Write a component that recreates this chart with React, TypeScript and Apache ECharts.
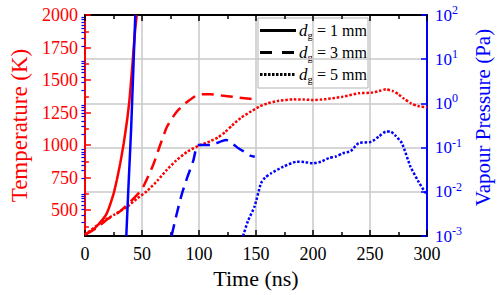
import React, { useEffect, useRef } from "react";
import * as echarts from "echarts";

const FONT = "Liberation Serif";
const RED = "#ff0000";
const BLUE = "#0000ff";
const GRID = "#c8c8c8";

// Axis ticks
const tempTicks = [500, 750, 1000, 1250, 1500, 1750, 2000];
const tempMinorTicks = [375, 625, 875, 1125, 1375, 1625, 1875];
const logDecades = [-3, -2, -1, 0, 1];
const logMinorMultipliers = [2, 3, 4, 5, 6, 7, 8, 9];

// d_g = 1 mm
const time1T = [0, 6, 12, 19, 25, 28, 31, 34, 37, 39, 41.5, 44, 45.5];
const temp1 = [310, 340, 390, 470, 620, 730, 860, 1010, 1190, 1340, 1600, 1880, 2000];
const time1P = [36.3, 38, 40.5, 41.5, 42.8, 44.2];
const press1 = [0.001, 0.01, 0.25, 1.26, 10, 100];

// d_g = 3 mm
const time3T = [0, 10, 20, 30, 40, 50, 60, 66, 72, 80, 88, 95, 100, 110, 120, 130, 140, 150];
const temp3 = [310, 360, 430, 485, 565, 660, 850, 1000, 1140, 1250, 1320, 1365, 1390, 1390, 1380, 1370, 1360, 1350];
const time3P = [76, 80, 85, 90, 95, 99, 105, 110, 115, 120, 124, 130, 135, 140, 145, 149];
const press3 = [0.001, 0.0028, 0.0089, 0.022, 0.05, 0.115, 0.115, 0.115, 0.125, 0.14, 0.148, 0.12, 0.095, 0.08, 0.066, 0.062];

// d_g = 5 mm
const time5T = [0, 15, 25, 37, 46, 55, 64, 72, 80, 90, 100, 110, 117, 123, 129, 137, 146, 153, 160, 170, 183, 192, 200, 210, 217, 226, 240, 251, 258, 264, 270, 275, 280, 286, 292, 300];
const temp5 = [310, 410, 460, 525, 590, 650, 730, 810, 880, 950, 995, 1030, 1060, 1100, 1150, 1210, 1260, 1295, 1320, 1340, 1351, 1350, 1346, 1352, 1359, 1371, 1398, 1402, 1415, 1428, 1415, 1390, 1355, 1320, 1300, 1290];
const time5P = [138.7, 143, 148.7, 154.4, 158, 163, 174, 186, 193, 200, 207, 214, 220, 226, 233, 240, 251, 258, 264, 268, 272, 278, 285.5, 292, 298, 300];
const press5 = [0.001, 0.0022, 0.0046, 0.0155, 0.021, 0.026, 0.037, 0.048, 0.047, 0.044, 0.048, 0.058, 0.063, 0.074, 0.083, 0.126, 0.135, 0.18, 0.23, 0.23, 0.19, 0.126, 0.037, 0.018, 0.01, 0.0089];

const legendLabels = ["1 mm", "3 mm", "5 mm"];

const DASHED = [12, 7];
const DOTTED = [2.5, 1.8];
const legendDashes: any[] = [null, [12, 10], [2.5, 1.5]];

const zip = (xs: number[], ys: number[]) => xs.map((x, i) => [x, ys[i]]);

const logMinor: number[] = [];
logDecades.forEach((d) => logMinorMultipliers.forEach((m) => logMinor.push(d + Math.log10(m))));

function line(data: number[][], color: string, type: any, yAxisIndex: number, smooth = 0.2) {
  return {
    type: "line",
    data,
    yAxisIndex,
    showSymbol: false,
    symbol: "none",
    smooth,
    clip: true,
    lineStyle: { color, width: 2.5, type },
    z: 3,
  };
}

// Legend box: frame, line samples and labels
function legendGraphic() {
  const left = 258;
  const top = 18;
  const rowY = [30.5, 52.5, 74.5];
  const children: any[] = [
    {
      type: "rect",
      shape: { x: left, y: top, width: 110, height: 70 },
      style: { fill: "#fff", stroke: "#b4b4b4", lineWidth: 1 },
    },
  ];
  rowY.forEach((y, i) => {
    children.push({
      type: "line",
      shape: { x1: left + 2, y1: y, x2: left + 38, y2: y },
      style: { stroke: "#000", lineWidth: 3, lineDash: legendDashes[i] || undefined },
    });
    children.push({
      type: "text",
      x: left + 41,
      y,
      style: {
        text: `{i|d}{s|g}{n| = ${legendLabels[i]}}`,
        verticalAlign: "middle",
        align: "left",
        rich: {
          i: { fontFamily: FONT, fontStyle: "italic", fontSize: 17, lineHeight: 20, fill: "#000" },
          s: { fontFamily: FONT, fontSize: 11, lineHeight: 11, verticalAlign: "bottom", fill: "#000" },
          n: { fontFamily: FONT, fontSize: 16, lineHeight: 20, fill: "#000" },
        },
      },
    });
  });
  return { type: "group", z: 10, children };
}

export default function App() {
  const ref = useRef<HTMLDivElement>(null);

  useEffect(() => {
    if (!ref.current) return;
    const chart = echarts.init(ref.current, undefined, { renderer: "svg" });

    const xAxisCommon = {
      type: "value",
      min: 0,
      max: 300,
      interval: 50,
      axisLine: { show: true, onZero: false, lineStyle: { color: "#000", width: 2 } },
      axisTick: { show: true, inside: true, length: 6, lineStyle: { color: "#000", width: 1.5 } },
      minorTick: { show: true, splitNumber: 2, length: 4, lineStyle: { color: "#000", width: 1.5 } },
    };

    chart.setOption({
      animation: false,
      textStyle: { fontFamily: FONT },
      grid: { left: 76, right: 75, top: 15, bottom: 59, containLabel: false },
      graphic: [legendGraphic()],
      xAxis: [
        {
          ...xAxisCommon,
          position: "bottom",
          name: "Time (ns)",
          nameLocation: "middle",
          nameGap: 26,
          nameTextStyle: { fontFamily: FONT, fontSize: 22, color: "#000" },
          axisLabel: { fontFamily: FONT, fontSize: 18, color: "#000", margin: 9 },
          splitLine: { show: true, lineStyle: { color: GRID, width: 1.5 } },
        },
        {
          ...xAxisCommon,
          position: "top",
          axisLabel: { show: false },
          splitLine: { show: false },
        },
      ],
      yAxis: [
        {
          type: "value",
          position: "left",
          min: 300,
          max: 2000,
          name: "Temperature (K)",
          nameLocation: "middle",
          nameRotate: 90,
          nameGap: 49,
          nameTextStyle: { fontFamily: FONT, fontSize: 23, color: RED },
          axisLine: { show: true, onZero: false, lineStyle: { color: RED, width: 2 } },
          axisTick: { show: true, inside: true, length: 6, customValues: tempTicks, lineStyle: { color: RED, width: 1.5 } },
          axisLabel: {
            customValues: tempTicks,
            formatter: (v: number) => String(v),
            fontFamily: FONT,
            fontSize: 18,
            color: RED,
            margin: 7,
          },
          splitLine: { show: false },
        },
        {
          type: "log",
          logBase: 10,
          position: "right",
          min: 0.001,
          max: 100,
          splitNumber: 5,
          name: "Vapour Pressure (Pa)",
          nameLocation: "middle",
          nameRotate: 90,
          nameGap: 44,
          nameTextStyle: { fontFamily: FONT, fontSize: 21, color: BLUE, padding: [0, 0, 0, 16] },
          axisLine: { show: true, onZero: false, lineStyle: { color: BLUE, width: 2 } },
          axisTick: { show: true, inside: true, length: 6, lineStyle: { color: BLUE, width: 1.5 } },
          axisLabel: {
            margin: 8,
            formatter: (v: number) => `{b|10}{e|${Math.round(Math.log10(v))}}`,
            rich: {
              b: { fontFamily: FONT, fontSize: 17, color: BLUE, lineHeight: 22 },
              e: { fontFamily: FONT, fontSize: 12, color: BLUE, lineHeight: 12, verticalAlign: "top" },
            },
          },
          splitLine: { show: true, lineStyle: { color: GRID, width: 1.5 } },
        },
        {
          // minor ticks of the temperature axis
          type: "value",
          position: "left",
          min: 300,
          max: 2000,
          axisLine: { show: false },
          axisTick: { show: true, inside: true, length: 4, customValues: tempMinorTicks, lineStyle: { color: RED, width: 1.5 } },
          axisLabel: { show: false },
          splitLine: { show: false },
        },
        {
          // minor ticks of the pressure axis, in decades
          type: "value",
          position: "right",
          min: -3,
          max: 2,
          axisLine: { show: false },
          axisTick: { show: true, inside: true, length: 3.5, customValues: logMinor, lineStyle: { color: BLUE, width: 1.2 } },
          axisLabel: { show: false },
          splitLine: { show: false },
        },
      ],
      series: [
        line(zip(time1T, temp1), RED, "solid", 0, 0.15),
        line(zip(time3T, temp3), RED, DASHED, 0),
        line(zip(time5T, temp5), RED, DOTTED, 0),
        line(zip(time1P, press1), BLUE, "solid", 1, 0),
        line(zip(time3P, press3), BLUE, DASHED, 1),
        line(zip(time5P, press5), BLUE, DOTTED, 1),
      ],
    });

    return () => chart.dispose();
  }, []);

  return <div ref={ref} style={{ width: 502, height: 295, position: "absolute", left: 0, top: 0 }} />;
}
